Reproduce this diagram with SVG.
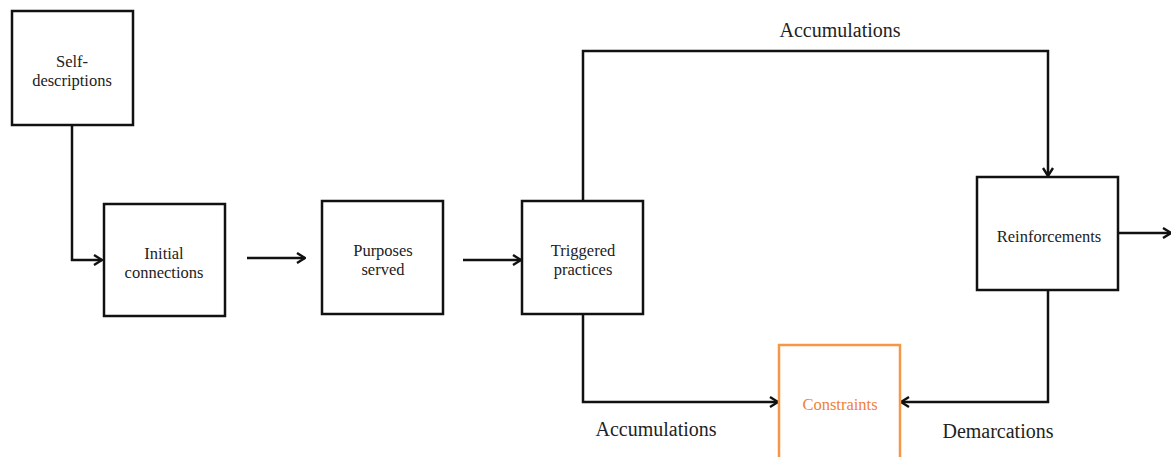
<svg xmlns="http://www.w3.org/2000/svg" width="1171" height="457" viewBox="0 0 1171 457">
  <style>
    .box { fill: #ffffff; stroke: #111111; stroke-width: 2.5; }
    .box.hl { stroke: #f79646; }
    .lbl { font-family: "Liberation Serif", "Times New Roman", serif; font-size: 16.5px; fill: #222222; text-anchor: middle; }
    .lbl.hl { fill: #f0813a; }
    .edge-lbl { font-family: "Liberation Serif", "Times New Roman", serif; font-size: 20px; fill: #222222; text-anchor: middle; }
    .wire { fill: none; stroke: #111111; stroke-width: 2.5; marker-end: url(#chev); }
  </style>
  <defs>
    <marker id="chev" viewBox="0 0 12 12" refX="11" refY="6" markerWidth="12" markerHeight="12" markerUnits="userSpaceOnUse" orient="auto">
      <path d="M3,1 L11,6 L3,11" fill="none" stroke="#111111" stroke-width="2.4" stroke-linejoin="miter"/>
    </marker>
  </defs>
  <rect width="1171" height="457" fill="#ffffff"/>

  <g id="connectors">
    <path class="wire" d="M72,125 V260 H102"/>
    <path class="wire" d="M247,258 H305"/>
    <path class="wire" d="M463,260 H521"/>
    <path class="wire" d="M583,200 V51 H1048 V176"/>
    <path class="wire" d="M583,314 V402 H778"/>
    <path class="wire" d="M1048,290 V402 H901"/>
    <path class="wire" d="M1118,233 H1171"/>
  </g>

  <g id="edge-labels">
    <text class="edge-lbl" x="840" y="37">Accumulations</text>
    <text class="edge-lbl" x="656" y="436">Accumulations</text>
    <text class="edge-lbl" x="998" y="438">Demarcations</text>
  </g>

  <g id="self-descriptions">
    <rect class="box" x="12" y="11" width="121" height="114"/>
    <text class="lbl" x="72" y="67">Self-</text>
    <text class="lbl" x="72" y="86">descriptions</text>
  </g>

  <g id="initial-connections">
    <rect class="box" x="104" y="204" width="121" height="112"/>
    <text class="lbl" x="164" y="259">Initial</text>
    <text class="lbl" x="164" y="278">connections</text>
  </g>

  <g id="purposes-served">
    <rect class="box" x="322" y="201" width="121" height="113"/>
    <text class="lbl" x="383" y="256">Purposes</text>
    <text class="lbl" x="383" y="275">served</text>
  </g>

  <g id="triggered-practices">
    <rect class="box" x="522" y="201" width="121" height="113"/>
    <text class="lbl" x="583" y="256">Triggered</text>
    <text class="lbl" x="583" y="275">practices</text>
  </g>

  <g id="reinforcements">
    <rect class="box" x="977" y="177" width="141" height="113"/>
    <text class="lbl" x="1049" y="242">Reinforcements</text>
  </g>

  <g id="constraints">
    <rect class="box hl" x="779" y="345" width="121" height="120"/>
    <text class="lbl hl" x="840" y="410">Constraints</text>
  </g>
</svg>
